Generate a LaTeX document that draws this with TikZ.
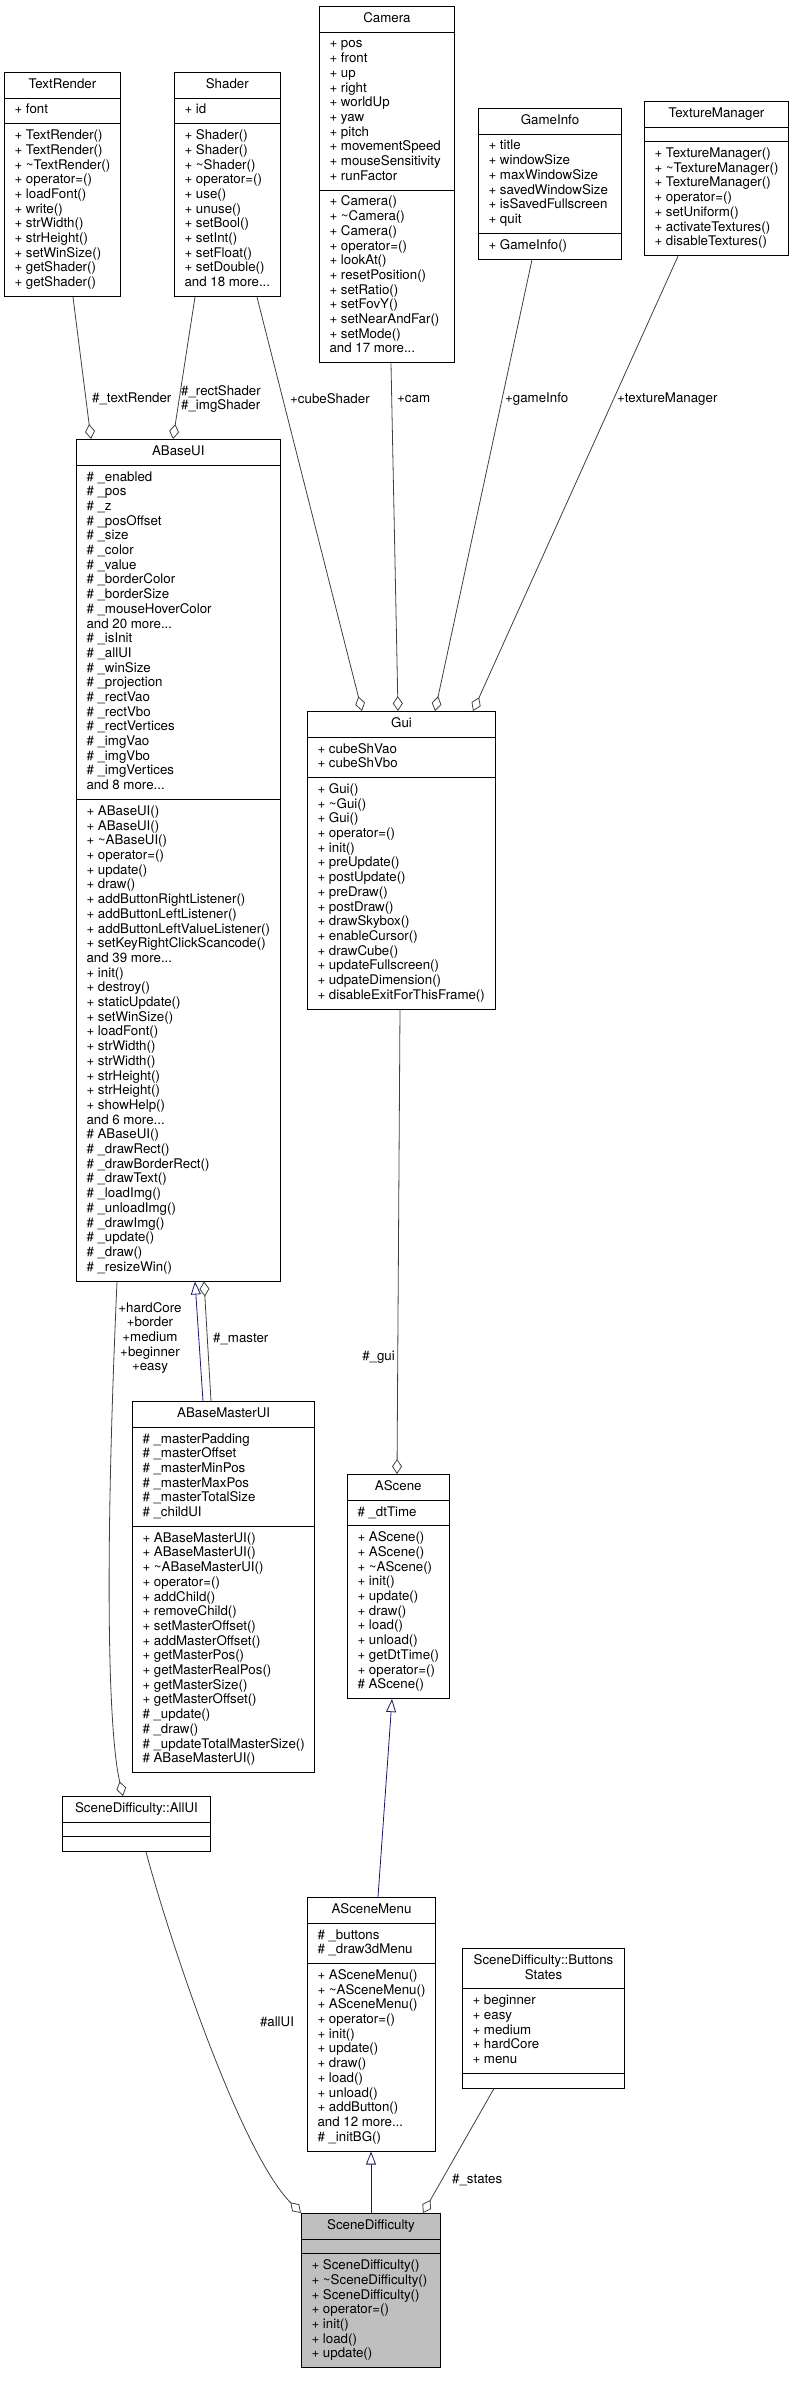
\documentclass[tikz,border=0pt]{standalone}
\usepackage{fontspec}
\setmainfont{TeX Gyre Heros}
\usepackage{tikz}
\usetikzlibrary{arrows.meta,shapes.multipart}

\definecolor{edgegray}{HTML}{404040}
\definecolor{inhblue}{HTML}{191970}

% one row per member, fixed line pitch
\newcommand{\members}[1]{\begin{tabular}{@{}l@{}}#1\end{tabular}}
\newcommand{\clsname}[1]{\begin{tabular}{@{}c@{}}#1\end{tabular}}
\newcommand{\tld}{\textasciitilde}

\begin{document}
\begin{tikzpicture}[
  x=1pt, y=-1pt,
  cls/.style={draw, line width=1pt, fill=white, anchor=north west,
              rectangle split, rectangle split parts=3,
              rectangle split part align={center,left,left},
              inner xsep=10pt, inner ysep=5pt,
              font=\fontsize{13.3}{14.7}\selectfont},
  agg/.style={-{Diamond[open, length=15pt, width=10pt]}, draw=edgegray, line width=0.8pt},
  inh/.style={-{Triangle[open, length=13pt, width=10pt]}, draw=inhblue, line width=0.8pt},
  lbl/.style={font=\fontsize{13.3}{14.7}\selectfont, inner sep=0pt, align=left}
]
\useasboundingbox (0,0) rectangle (793,2383);

% top row
\node[cls, minimum width=96pt] (textrender) at (4,72) {\clsname{TextRender}
  \nodepart{second}\members{+ font}
  \nodepart{third}\members{+ TextRender()\\+ TextRender()\\+ \tld TextRender()\\+ operator=()\\+ loadFont()\\+ write()\\+ strWidth()\\+ strHeight()\\+ setWinSize()\\+ getShader()\\+ getShader()}};
\node[cls, minimum width=95pt] (shader) at (174,72) {\clsname{Shader}
  \nodepart{second}\members{+ id}
  \nodepart{third}\members{+ Shader()\\+ Shader()\\+ \tld Shader()\\+ operator=()\\+ use()\\+ unuse()\\+ setBool()\\+ setInt()\\+ setFloat()\\+ setDouble()\\and 18 more...}};
\node[cls, minimum width=135pt] (camera) at (319,6) {\clsname{Camera}
  \nodepart{second}\members{+ pos\\+ front\\+ up\\+ right\\+ worldUp\\+ yaw\\+ pitch\\+ movementSpeed\\+ mouseSensitivity\\+ runFactor}
  \nodepart{third}\members{+ Camera()\\+ \tld Camera()\\+ Camera()\\+ operator=()\\+ lookAt()\\+ resetPosition()\\+ setRatio()\\+ setFovY()\\+ setNearAndFar()\\+ setMode()\\and 17 more...}};
\node[cls, minimum width=143pt] (gameinfo) at (478,108) {\clsname{GameInfo}
  \nodepart{second}\members{+ title\\+ windowSize\\+ maxWindowSize\\+ savedWindowSize\\+ isSavedFullscreen\\+ quit}
  \nodepart{third}\members{+ GameInfo()}};
\node[cls, minimum width=143pt] (texturemanager) at (644,101) {\clsname{TextureManager}
  \nodepart{second}\members{}
  \nodepart{third}\members{+ TextureManager()\\+ \tld TextureManager()\\+ TextureManager()\\+ operator=()\\+ setUniform()\\+ activateTextures()\\+ disableTextures()}};

% middle
\node[cls, minimum width=203pt] (abaseui) at (76,439) {\clsname{ABaseUI}
  \nodepart{second}\members{\# \_enabled\\\# \_pos\\\# \_z\\\# \_posOffset\\\# \_size\\\# \_color\\\# \_value\\\# \_borderColor\\\# \_borderSize\\\# \_mouseHoverColor\\and 20 more...\\\# \_isInit\\\# \_allUI\\\# \_winSize\\\# \_projection\\\# \_rectVao\\\# \_rectVbo\\\# \_rectVertices\\\# \_imgVao\\\# \_imgVbo\\\# \_imgVertices\\and 8 more...}
  \nodepart{third}\members{+ ABaseUI()\\+ ABaseUI()\\+ \tld ABaseUI()\\+ operator=()\\+ update()\\+ draw()\\+ addButtonRightListener()\\+ addButtonLeftListener()\\+ addButtonLeftValueListener()\\+ setKeyRightClickScancode()\\and 39 more...\\+ init()\\+ destroy()\\+ staticUpdate()\\+ setWinSize()\\+ loadFont()\\+ strWidth()\\+ strWidth()\\+ strHeight()\\+ strHeight()\\+ showHelp()\\and 6 more...\\\# ABaseUI()\\\# \_drawRect()\\\# \_drawBorderRect()\\\# \_drawText()\\\# \_loadImg()\\\# \_unloadImg()\\\# \_drawImg()\\\# \_update()\\\# \_draw()\\\# \_resizeWin()}};
\node[cls, minimum width=188pt] (gui) at (307,711) {\clsname{Gui}
  \nodepart{second}\members{+ cubeShVao\\+ cubeShVbo}
  \nodepart{third}\members{+ Gui()\\+ \tld Gui()\\+ Gui()\\+ operator=()\\+ init()\\+ preUpdate()\\+ postUpdate()\\+ preDraw()\\+ postDraw()\\+ drawSkybox()\\+ enableCursor()\\+ drawCube()\\+ updateFullscreen()\\+ udpateDimension()\\+ disableExitForThisFrame()}};
\node[cls, minimum width=181pt] (abasemasterui) at (132,1401) {\clsname{ABaseMasterUI}
  \nodepart{second}\members{\# \_masterPadding\\\# \_masterOffset\\\# \_masterMinPos\\\# \_masterMaxPos\\\# \_masterTotalSize\\\# \_childUI}
  \nodepart{third}\members{+ ABaseMasterUI()\\+ ABaseMasterUI()\\+ \tld ABaseMasterUI()\\+ operator=()\\+ addChild()\\+ removeChild()\\+ setMasterOffset()\\+ addMasterOffset()\\+ getMasterPos()\\+ getMasterRealPos()\\+ getMasterSize()\\+ getMasterOffset()\\\# \_update()\\\# \_draw()\\\# \_updateTotalMasterSize()\\\# ABaseMasterUI()}};
\node[cls, minimum width=101pt] (ascene) at (347,1474) {\clsname{AScene}
  \nodepart{second}\members{\# \_dtTime}
  \nodepart{third}\members{+ AScene()\\+ AScene()\\+ \tld AScene()\\+ init()\\+ update()\\+ draw()\\+ load()\\+ unload()\\+ getDtTime()\\+ operator=()\\\# AScene()}};

% bottom
\node[cls, minimum width=148pt] (allui) at (62,1796) {\clsname{SceneDifficulty::AllUI}
  \nodepart{second}\members{}
  \nodepart{third}\members{}};
\node[cls, minimum width=128pt] (ascenemenu) at (307,1897) {\clsname{ASceneMenu}
  \nodepart{second}\members{\# \_buttons\\\# \_draw3dMenu}
  \nodepart{third}\members{+ ASceneMenu()\\+ \tld ASceneMenu()\\+ ASceneMenu()\\+ operator=()\\+ init()\\+ update()\\+ draw()\\+ load()\\+ unload()\\+ addButton()\\and 12 more...\\\# \_initBG()}};
\node[cls, minimum width=162pt] (buttonsstates) at (462,1948) {\clsname{SceneDifficulty::Buttons\\States}
  \nodepart{second}\members{+ beginner\\+ easy\\+ medium\\+ hardCore\\+ menu}
  \nodepart{third}\members{}};
\node[cls, minimum width=139pt, fill=gray!50] (scenedifficulty) at (301,2213) {\clsname{SceneDifficulty}
  \nodepart{second}\members{}
  \nodepart{third}\members{+ SceneDifficulty()\\+ \tld SceneDifficulty()\\+ SceneDifficulty()\\+ operator=()\\+ init()\\+ load()\\+ update()}};

% aggregations
\draw[agg] ([xshift=69pt]textrender.south west) -- ([xshift=15pt]abaseui.north west);
\draw[agg] ([xshift=21pt]shader.south west) -- ([xshift=97pt]abaseui.north west);
\draw[agg] ([xshift=83pt]shader.south west) -- ([xshift=55pt]gui.north west);
\draw[agg] ([xshift=72pt]camera.south west) -- ([xshift=91pt]gui.north west);
\draw[agg] ([xshift=54pt]gameinfo.south west) -- ([xshift=128pt]gui.north west);
\draw[agg] ([xshift=34pt]texturemanager.south west) -- ([xshift=166pt]gui.north west);
\draw[agg] ([xshift=93pt]gui.south west) -- ([xshift=50pt]ascene.north west);
\draw[agg] ([xshift=79pt]abasemasterui.north west) -- ([xshift=128pt]abaseui.south west);
\draw[agg] ([xshift=41pt]abaseui.south west) .. controls (103,1600) and (110,1740) .. ([xshift=61pt]allui.north west);
\draw[agg] ([xshift=84pt]allui.south west) .. controls (171,1945) and (241,2153) .. (scenedifficulty.north west);
\draw[agg] ([xshift=32pt]buttonsstates.south west) -- ([xshift=122pt]scenedifficulty.north west);

% inheritance
\draw[inh] ([xshift=71pt]abasemasterui.north west) -- ([xshift=119pt]abaseui.south west);
\draw[inh] ([xshift=71pt]ascenemenu.north west) -- ([xshift=45pt]ascene.south west);
\draw[inh] ([xshift=70pt]scenedifficulty.north west) -- ([xshift=64pt]ascenemenu.south west);

% edge labels
\node[lbl, anchor=west] (ltextrender) at (92,399) {\#\_textRender};
\node[lbl, anchor=west] (lshader) at (181,399) {\#\_rectShader\\\#\_imgShader};
\node[lbl, anchor=west] (lcubeshader) at (290,399) {+cubeShader};
\node[lbl, anchor=west] (lcam) at (397,399) {+cam};
\node[lbl, anchor=west] (lgameinfo) at (505,399) {+gameInfo};
\node[lbl, anchor=west] (ltexman) at (617,399) {+textureManager};
\node[lbl, align=center] (lbuttons) at (150,1338) {+hardCore\\+border\\+medium\\+beginner\\+easy};
\node[lbl, anchor=west] (lmaster) at (213,1339) {\#\_master};
\node[lbl, anchor=east] (lgui) at (395,1357) {\#\_gui};
\node[lbl] (lallui) at (277,2022) {\#allUI};
\node[lbl, anchor=west] (lstates) at (452,2180) {\#\_states};
\end{tikzpicture}
\end{document}
